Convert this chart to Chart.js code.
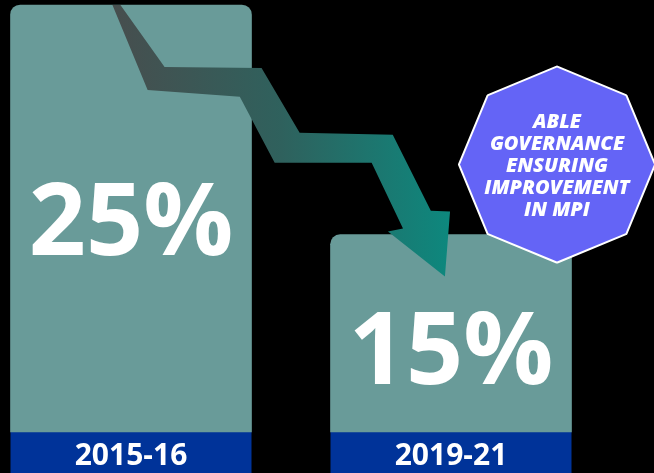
<!DOCTYPE html>
<html>
<head>
<meta charset="utf-8">
<script src="https://cdn.jsdelivr.net/npm/chart.js@4"></script>
<style>
  html, body { margin: 0; padding: 0; background: #000; }
  .chart { width: 654px; height: 473px; position: relative; }
</style>
</head>
<body>
<div class="chart">
    <canvas id="mpiChart"></canvas>
</div>
<script>
const categories = ['2015-16', '2019-21'];
const mpiValues = [25, 15];
const badgeLines = ['ABLE', 'GOVERNANCE', 'ENSURING', 'IMPROVEMENT', 'IN MPI'];
const axisFloor = 6.4;

// zigzag arrow, as fractions of the way from bar 1 top to bar 2 top
const arrowShape = [
    [-0.058, 0], [-0.033, 0], [0.105, 0.270], [0.408, 0.274], [0.527, 0.557],
    [0.818, 0.565], [0.937, 0.896], [0.997, 0.900], [0.981, 1.183], [0.803, 0.987],
    [0.850, 0.974], [0.752, 0.687], [0.449, 0.687], [0.340, 0.400], [0.052, 0.370]
];

const decorations = {
    id: 'decorations',
    beforeDraw(chart) {
        // dark blue bands behind the year labels
        const ctx = chart.ctx;
        const bars = chart.getDatasetMeta(0).data;
        ctx.save();
        ctx.fillStyle = '#003399';
        bars.forEach(b => {
            ctx.fillRect(b.x - b.width / 2, chart.chartArea.bottom, b.width, chart.height - chart.chartArea.bottom);
        });
        ctx.restore();
    },
    afterDatasetsDraw(chart) {
        const ctx = chart.ctx;
        const bars = chart.getDatasetMeta(0).data;
        const a = bars[0], b = bars[1];
        const dx = b.x - a.x, dy = b.y - a.y;

        // arrow
        ctx.save();
        const grad = ctx.createLinearGradient(a.x + arrowShape[0][0] * dx, 0, b.x, 0);
        grad.addColorStop(0, '#474e4e');
        grad.addColorStop(0.5, '#2f615d');
        grad.addColorStop(1, '#0d887e');
        ctx.fillStyle = grad;
        ctx.beginPath();
        arrowShape.forEach(([u, v], i) => {
            const x = a.x + u * dx, y = a.y + v * dy;
            i ? ctx.lineTo(x, y) : ctx.moveTo(x, y);
        });
        ctx.closePath();
        ctx.fill();
        ctx.restore();

        // big percentages
        ctx.save();
        ctx.fillStyle = '#fff';
        ctx.textAlign = 'center';
        ctx.font = 'bold 100px "Open Sans"';
        const full = chart.chartArea.bottom - chart.chartArea.top;
        bars.forEach((bar, i) => {
            const h = chart.chartArea.bottom - bar.y;
            const mid = chart.chartArea.bottom - h / 2 + (full - h) * 0.065;
            ctx.fillText(mpiValues[i] + '%', bar.x, mid + 36);
        });
        ctx.restore();

        // octagon badge
        const cx = b.x + 106, cy = b.y - 70, r = 97;
        ctx.save();
        ctx.beginPath();
        for (let i = 0; i < 8; i++) {
            const ang = -Math.PI / 2 + i * Math.PI / 4;
            const x = cx + r * Math.cos(ang), y = cy + r * Math.sin(ang);
            i ? ctx.lineTo(x, y) : ctx.moveTo(x, y);
        }
        ctx.closePath();
        ctx.fillStyle = '#6464f6';
        ctx.strokeStyle = '#fff';
        ctx.lineWidth = 4;
        ctx.lineJoin = 'round';
        ctx.stroke();
        ctx.fill();
        ctx.fillStyle = '#fff';
        ctx.textAlign = 'center';
        ctx.font = 'italic 800 20px "Open Sans"';
        badgeLines.forEach((line, i) => {
            ctx.fillText(line, cx, cy - 44 + i * 22 + 7);
        });
        ctx.restore();
    }
};

new Chart(document.getElementById('mpiChart'), {
    type: 'bar',
    data: {
        labels: categories,
        datasets: [{
            data: mpiValues,
            base: axisFloor,
            backgroundColor: '#699b99',
            barThickness: 241,
            borderRadius: { topLeft: 10, topRight: 10, bottomLeft: 0, bottomRight: 0 },
            borderSkipped: 'bottom',
            clip: false
        }]
    },
    options: {
        responsive: true,
        maintainAspectRatio: false,
        animation: false,
        layout: { padding: { top: 5, left: 131, right: 203, bottom: 0 } },
        plugins: { legend: { display: false }, tooltip: { enabled: false } },
        scales: {
            x: {
                offset: false,
                grid: { display: false, drawTicks: false },
                border: { display: false },
                afterFit(scale) { scale.height = 41; },
                ticks: {
                    color: '#fff',
                    padding: 6,
                    font: { family: 'Open Sans', size: 30, weight: 'bold' }
                }
            },
            y: {
                display: false,
                min: axisFloor,
                max: 25
            }
        }
    },
    plugins: [decorations]
});
</script>
</body>
</html>
